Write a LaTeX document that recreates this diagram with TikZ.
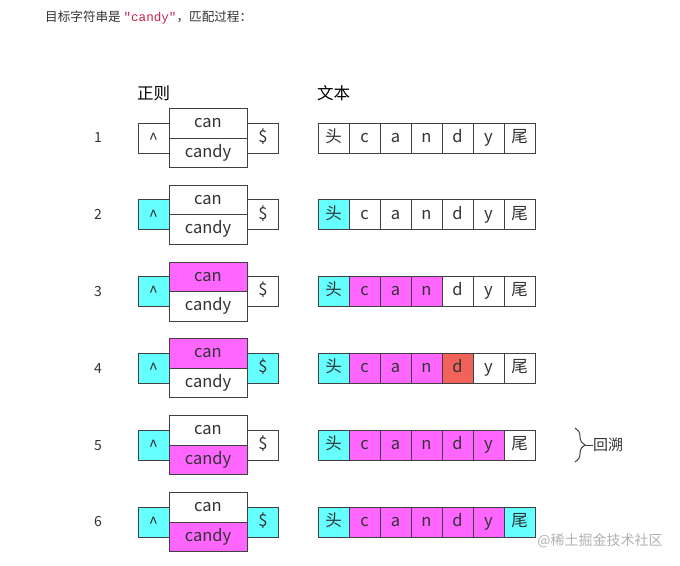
\documentclass[tikz,border=0pt]{standalone}
\usepackage{fontspec}
\setmainfont{Noto Sans CJK SC}
\setmonofont{Liberation Mono}
\usetikzlibrary{decorations.pathreplacing}
\definecolor{cyn}{HTML}{66FFFF}
\definecolor{mag}{HTML}{FF66FF}
\definecolor{rd}{HTML}{F0625A}
\definecolor{wht}{HTML}{FFFFFF}
\definecolor{ln}{HTML}{404040}
\definecolor{txt}{HTML}{333333}
\definecolor{codecol}{HTML}{C7254E}
\tikzset{
  box/.style={draw=ln, line width=1pt, inner sep=0pt, text=txt, font=\fontsize{16.5}{18}\selectfont, text height=0.93em, text depth=0.07em},
  small/.style={box, minimum width=31pt, minimum height=30pt},
  mid/.style={box, minimum width=78pt, minimum height=29.5pt},
  tcell/.style={box, minimum width=31pt, minimum height=30pt},
  numlbl/.style={text=txt, font=\fontsize{14}{16}\selectfont},
  head/.style={text=black, font=\fontsize{16.5}{18}\selectfont},
}
\newcommand\regexrow[6]{%
  \pgfmathsetmacro\yc{-(138+(#1-1)*76.8)}
  \node[numlbl] (n#1) at (98,\yc) {#1};
  \node[small, fill=#2] (hat#1) at (153.5,\yc) {\raisebox{-3pt}{\textasciicircum}};
  \node[mid, fill=#3] (can#1) at (208,\yc+14.75) {can};
  \node[mid, fill=#4] (candy#1) at (208,\yc-14.75) {candy};
  \node[small, fill=#5] (dol#1) at (263,\yc) {\$};
  \foreach \lbl/\fc [count=\i from 0] in {#6}{
    \node[tcell, fill=\fc] (t#1-\i) at (333.5+31*\i,\yc) {\lbl};
  }
}
\begin{document}
\begin{tikzpicture}[x=1pt,y=1pt]
\useasboundingbox[fill=white] (0,0) rectangle (680,-565);
\node[anchor=west, text=txt, font=\fontsize{12.6}{14}\selectfont, inner sep=0pt] (title) at (45,-17)
  {目标字符串是 {\color{codecol}\ttfamily "candy"}，匹配过程：};
\node[head] (rx) at (153.5,-93) {正则};
\node[head] (tx) at (333.5,-93) {文本};
\regexrow{1}{wht}{wht}{wht}{wht}{头/wht,c/wht,a/wht,n/wht,d/wht,y/wht,尾/wht}
\regexrow{2}{cyn}{wht}{wht}{wht}{头/cyn,c/wht,a/wht,n/wht,d/wht,y/wht,尾/wht}
\regexrow{3}{cyn}{mag}{wht}{wht}{头/cyn,c/mag,a/mag,n/mag,d/wht,y/wht,尾/wht}
\regexrow{4}{cyn}{mag}{wht}{cyn}{头/cyn,c/mag,a/mag,n/mag,d/rd,y/wht,尾/wht}
\regexrow{5}{cyn}{wht}{mag}{wht}{头/cyn,c/mag,a/mag,n/mag,d/mag,y/mag,尾/wht}
\regexrow{6}{cyn}{wht}{mag}{cyn}{头/cyn,c/mag,a/mag,n/mag,d/mag,y/mag,尾/cyn}
\coordinate (bt) at (575,-428);
\coordinate (bb) at (575,-462);
\draw[ln, line width=1pt, decorate, decoration={brace, amplitude=10pt}] (bt) -- (bb);
\node[anchor=west, text=txt, font=\fontsize{15}{17}\selectfont, inner sep=0pt] (back) at (593,-445) {回溯};
\draw[ln, line width=1pt] (585,-445) -- (back.west);
\node[text=black!30, font=\fontsize{14}{16}\selectfont, inner sep=0pt] (wm) at (600,-541) {@稀土掘金技术社区};
\end{tikzpicture}
\end{document}
